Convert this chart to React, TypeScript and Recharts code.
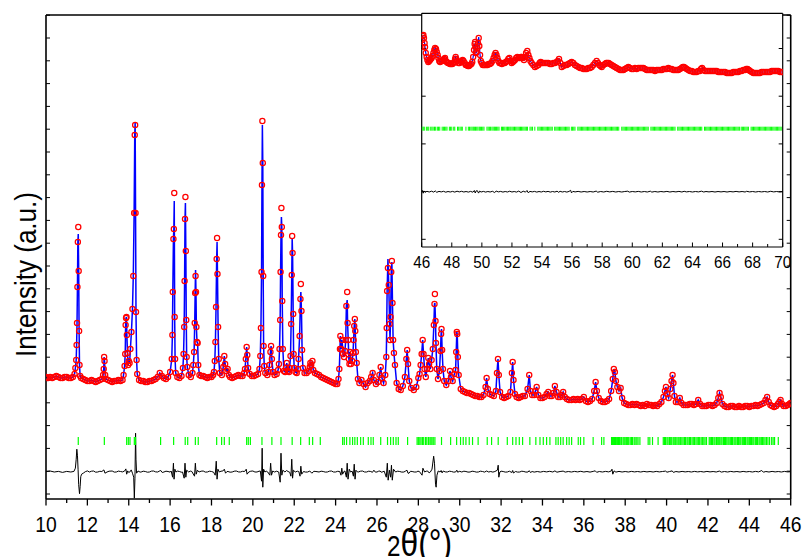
import React from 'react';
import { ComposedChart, Line, Scatter, XAxis, YAxis, CartesianGrid } from 'recharts';

const FONT = '"Liberation Sans", Arial, Helvetica, sans-serif';

// observed pattern, main window: [2theta, intensity]
const OBS_MAIN: [number, number][] = [
  [10.0, 122], [10.1, 121], [10.2, 122], [10.3, 121], [10.4, 122], [10.5, 123], [10.6, 122], [10.7, 121],
  [10.8, 121], [10.9, 122], [11.0, 122], [11.1, 121], [11.2, 121], [11.3, 122], [11.38, 125], [11.42, 131],
  [11.46, 139], [11.48, 154], [11.5, 176], [11.52, 212], [11.54, 257], [11.56, 272], [11.58, 228], [11.6, 168],
  [11.62, 134], [11.65, 123], [11.7, 121], [11.8, 120], [11.9, 119], [12.0, 118], [12.1, 118], [12.2, 119],
  [12.3, 118], [12.4, 117], [12.5, 118], [12.6, 119], [12.7, 120], [12.76, 124], [12.79, 130], [12.81, 142],
  [12.83, 138], [12.86, 124], [12.9, 120], [13.0, 119], [13.1, 118], [13.2, 117], [13.3, 118], [13.4, 118],
  [13.5, 119], [13.6, 118], [13.7, 119], [13.75, 124], [13.8, 133], [13.83, 145], [13.85, 174], [13.87, 181],
  [13.89, 182], [13.91, 164], [13.94, 146], [13.97, 134], [14.0, 138], [14.04, 136], [14.08, 150], [14.13, 167],
  [14.18, 190], [14.22, 223], [14.26, 286], [14.29, 364], [14.31, 374], [14.33, 286], [14.35, 187], [14.38, 139],
  [14.41, 125], [14.5, 119], [14.6, 118], [14.7, 118], [14.8, 117], [14.9, 117], [15.0, 118], [15.1, 118],
  [15.2, 119], [15.3, 120], [15.4, 122], [15.5, 126], [15.6, 123], [15.7, 121], [15.8, 120], [15.9, 122],
  [16.0, 127], [16.08, 140], [16.11, 164], [16.13, 207], [16.16, 260], [16.18, 270], [16.2, 306], [16.22, 182],
  [16.24, 140], [16.27, 126], [16.35, 122], [16.45, 121], [16.55, 123], [16.62, 131], [16.65, 145], [16.68, 172],
  [16.7, 218], [16.72, 280], [16.74, 302], [16.76, 248], [16.78, 179], [16.8, 142], [16.83, 132], [16.9, 124],
  [17.0, 122], [17.08, 126], [17.12, 134], [17.16, 147], [17.19, 176], [17.21, 206], [17.23, 223], [17.25, 207],
  [17.27, 172], [17.3, 157], [17.33, 156], [17.36, 134], [17.42, 124], [17.5, 123], [17.6, 123], [17.7, 122],
  [17.8, 121], [17.9, 122], [18.0, 122], [18.08, 124], [18.12, 127], [18.16, 138], [18.19, 157], [18.22, 192],
  [18.25, 240], [18.27, 261], [18.29, 225], [18.32, 172], [18.35, 140], [18.4, 126], [18.5, 124], [18.57, 132],
  [18.62, 143], [18.66, 135], [18.72, 128], [18.78, 130], [18.84, 124], [18.9, 122], [19.0, 121], [19.1, 122],
  [19.2, 123], [19.3, 124], [19.4, 123], [19.5, 123], [19.58, 126], [19.62, 130], [19.66, 140], [19.7, 152],
  [19.73, 144], [19.77, 131], [19.85, 125], [19.95, 123], [20.05, 123], [20.15, 124], [20.25, 125], [20.32, 130],
  [20.36, 143], [20.39, 171], [20.42, 227], [20.44, 314], [20.46, 378], [20.48, 336], [20.5, 223], [20.52, 153],
  [20.55, 133], [20.6, 126], [20.7, 124], [20.76, 127], [20.8, 134], [20.85, 147], [20.88, 153], [20.92, 140],
  [20.97, 127], [21.05, 124], [21.15, 125], [21.22, 129], [21.26, 135], [21.29, 150], [21.32, 179], [21.34, 227],
  [21.36, 264], [21.38, 291], [21.4, 272], [21.42, 198], [21.45, 150], [21.5, 128], [21.56, 127], [21.6, 131],
  [21.64, 136], [21.7, 128], [21.75, 127], [21.78, 131], [21.82, 143], [21.85, 175], [21.88, 224], [21.9, 263],
  [21.92, 246], [21.95, 185], [21.97, 145], [22.0, 131], [22.06, 127], [22.12, 126], [22.18, 130], [22.21, 140],
  [22.26, 163], [22.3, 200], [22.32, 215], [22.35, 188], [22.38, 149], [22.42, 131], [22.5, 126], [22.6, 126],
  [22.7, 128], [22.75, 132], [22.78, 136], [22.82, 134], [22.88, 138], [22.92, 129], [23.0, 126], [23.1, 125],
  [23.2, 124], [23.3, 122], [23.4, 121], [23.5, 120], [23.6, 119], [23.7, 118], [23.8, 117], [23.9, 116],
  [24.0, 115], [24.08, 115], [24.14, 120], [24.18, 130], [24.21, 150], [24.23, 163], [24.27, 150], [24.31, 159],
  [24.36, 145], [24.41, 142], [24.45, 148], [24.49, 159], [24.52, 193], [24.56, 207], [24.58, 176], [24.61, 159],
  [24.64, 140], [24.67, 135], [24.7, 147], [24.74, 135], [24.8, 138], [24.84, 146], [24.87, 159], [24.9, 173],
  [24.93, 180], [24.95, 168], [24.98, 147], [25.02, 136], [25.08, 120], [25.15, 116], [25.25, 119], [25.35, 115],
  [25.45, 112], [25.55, 116], [25.65, 118], [25.72, 122], [25.79, 126], [25.85, 119], [25.95, 115], [26.05, 117],
  [26.12, 124], [26.18, 132], [26.24, 121], [26.32, 116], [26.4, 124], [26.45, 142], [26.47, 171], [26.49, 208],
  [26.53, 231], [26.57, 214], [26.61, 175], [26.63, 159], [26.66, 182], [26.69, 227], [26.72, 238], [26.75, 196],
  [26.78, 159], [26.82, 146], [26.87, 134], [26.95, 116], [27.05, 110], [27.15, 109], [27.25, 113], [27.35, 122],
  [27.42, 140], [27.46, 149], [27.5, 135], [27.56, 118], [27.65, 111], [27.78, 109], [27.9, 112], [28.0, 121],
  [28.06, 125], [28.11, 134], [28.16, 145], [28.21, 159], [28.25, 145], [28.3, 130], [28.36, 122], [28.42, 130],
  [28.48, 141], [28.52, 135], [28.58, 130], [28.64, 139], [28.7, 150], [28.75, 174], [28.78, 195], [28.8, 205],
  [28.83, 178], [28.85, 156], [28.89, 130], [28.95, 120], [29.02, 128], [29.07, 148], [29.1, 165], [29.12, 170],
  [29.15, 149], [29.19, 130], [29.25, 118], [29.35, 114], [29.45, 118], [29.53, 128], [29.58, 122], [29.66, 118],
  [29.74, 125], [29.8, 129], [29.83, 147], [29.86, 167], [29.88, 165], [29.91, 142], [29.95, 124], [30.05, 110],
  [30.15, 108], [30.25, 107], [30.35, 106], [30.45, 106], [30.55, 105], [30.65, 104], [30.75, 103], [30.85, 103],
  [30.95, 102], [31.05, 102], [31.15, 104], [31.25, 112], [31.3, 121], [31.36, 110], [31.45, 105], [31.55, 104],
  [31.65, 103], [31.75, 108], [31.8, 126], [31.85, 140], [31.89, 124], [31.95, 107], [32.05, 102], [32.15, 101],
  [32.25, 102], [32.35, 103], [32.45, 107], [32.52, 126], [32.56, 137], [32.6, 119], [32.67, 105], [32.75, 102],
  [32.85, 101], [32.95, 102], [33.05, 103], [33.15, 103], [33.28, 110], [33.36, 124], [33.42, 108], [33.5, 104],
  [33.6, 104], [33.66, 108], [33.72, 112], [33.8, 104], [33.9, 101], [34.0, 101], [34.1, 102], [34.2, 105],
  [34.28, 107], [34.36, 103], [34.45, 103], [34.53, 106], [34.6, 113], [34.68, 107], [34.76, 102], [34.85, 102],
  [34.93, 104], [35.0, 107], [35.08, 102], [35.18, 100], [35.28, 99], [35.4, 99], [35.5, 100], [35.6, 99],
  [35.7, 100], [35.8, 99], [35.9, 100], [36.0, 102], [36.1, 98], [36.2, 97], [36.3, 98], [36.4, 100],
  [36.5, 108], [36.57, 117], [36.63, 108], [36.72, 101], [36.82, 98], [36.92, 97], [37.02, 97], [37.12, 98],
  [37.22, 100], [37.32, 108], [37.4, 120], [37.45, 130], [37.5, 127], [37.55, 118], [37.62, 112], [37.7, 108],
  [37.78, 111], [37.85, 101], [37.95, 96], [38.05, 95], [38.15, 94], [38.25, 94], [38.35, 95], [38.45, 94],
  [38.55, 95], [38.65, 94], [38.75, 93], [38.85, 94], [38.95, 93], [39.05, 95], [39.15, 94], [39.25, 94],
  [39.35, 93], [39.45, 94], [39.55, 93], [39.65, 95], [39.75, 97], [39.85, 102], [39.92, 108], [39.97, 112],
  [40.03, 105], [40.1, 101], [40.18, 110], [40.24, 118], [40.29, 124], [40.33, 116], [40.38, 103], [40.45, 97],
  [40.55, 97], [40.64, 101], [40.72, 96], [40.82, 94], [40.92, 94], [41.02, 94], [41.12, 95], [41.22, 95],
  [41.32, 94], [41.42, 95], [41.53, 99], [41.62, 95], [41.72, 93], [41.82, 93], [41.92, 93], [42.02, 94],
  [42.12, 94], [42.22, 93], [42.32, 94], [42.42, 96], [42.5, 101], [42.56, 106], [42.62, 102], [42.7, 95],
  [42.8, 93], [42.9, 92], [43.0, 92], [43.1, 93], [43.2, 93], [43.3, 92], [43.4, 92], [43.5, 93],
  [43.6, 92], [43.7, 92], [43.8, 93], [43.9, 93], [44.0, 92], [44.1, 93], [44.2, 93], [44.3, 94],
  [44.4, 93], [44.5, 94], [44.6, 95], [44.7, 96], [44.78, 99], [44.86, 102], [44.94, 97], [45.02, 94],
  [45.1, 93], [45.2, 92], [45.3, 93], [45.38, 95], [45.45, 97], [45.51, 99], [45.58, 95], [45.66, 93],
  [45.76, 93], [45.86, 94], [45.94, 95], [46.0, 96],
];

// calculated profile where it departs from the observed points (peak tops)
const CALC_MAIN_TOPS: [number, number][] = [
  [11.56, 265], [14.31, 377], [16.2, 298], [16.74, 296], [17.23, 229], [18.27, 257], [20.46, 374],
  [21.38, 282], [21.9, 261], [22.32, 207], [24.56, 199], [26.53, 240], [26.72, 237], [28.8, 196],
];

// difference curve (obs - calc), main window
const DIFF_MAIN: [number, number][] = [
  [10.0, 0], [10.2, 0.7], [10.4, -0.3], [10.6, 0.3], [10.8, -0.7], [11.0, 0.3], [11.2, -0.3], [11.35, 0.3],
  [11.42, 3.5], [11.46, 12.5], [11.49, 22.5], [11.52, 16.5], [11.55, 2.5], [11.58, -13], [11.62, -22], [11.65, -15],
  [11.68, -5], [11.72, -2.5], [11.8, -1.5], [11.9, 0], [12.0, 0.8], [12.1, -0.3], [12.2, 0.5], [12.3, 0.7],
  [12.4, -0.5], [12.5, -0.3], [12.6, 0.4], [12.7, 0.2], [12.8, 1.8], [12.85, -1.5], [12.95, -0.3], [13.05, 0.5],
  [13.2, 0.7], [13.3, -0.4], [13.4, -0.3], [13.5, 0.6], [13.6, 0.2], [13.7, -0.2], [13.8, 0.7], [13.86, 2.8],
  [13.9, -2.5], [13.95, 0.8], [14.0, -0.8], [14.05, -0.3], [14.12, 1.8], [14.18, -1.5], [14.24, -5.5], [14.27, -26.5],
  [14.3, -7], [14.33, 38.5], [14.35, 12.5], [14.38, -1.5], [14.45, 0.7], [14.55, -0.4], [14.6, -0.3], [14.7, 0.5],
  [14.8, 0.2], [14.9, -0.5], [15.0, -0.3], [15.1, 0.6], [15.2, 0.7], [15.3, -0.2], [15.4, -0.3], [15.5, 0.8],
  [15.55, 1.2], [15.62, -0.8], [15.7, -0.3], [15.8, 0.5], [15.9, 0.2], [16.0, -0.4], [16.05, 0.7], [16.12, -5.5],
  [16.16, 8.5], [16.19, -7.5], [16.23, 2.5], [16.28, -0.3], [16.36, 0.6], [16.45, 0.2], [16.54, -0.5], [16.6, -0.3],
  [16.68, -6.5], [16.72, 8.5], [16.76, -5.5], [16.8, 1.5], [16.9, -0.3], [16.98, 0.6], [17.05, 0.2], [17.18, -4.5],
  [17.22, 8.5], [17.26, -2.5], [17.32, 1.5], [17.4, -0.3], [17.5, 0.5], [17.6, 0.7], [17.7, -0.4], [17.8, -0.3],
  [17.9, 0.5], [18.0, 0.2], [18.1, -0.5], [18.18, -3.5], [18.23, 10.5], [18.27, -7.5], [18.31, 2.5], [18.38, -0.3],
  [18.46, 0.5], [18.55, 0.7], [18.62, 2.5], [18.68, -1.5], [18.75, 0.2], [18.8, 0.2], [18.9, -0.5], [19.0, -0.3],
  [19.1, 0.5], [19.2, 0.7], [19.3, -0.2], [19.4, -0.3], [19.5, 0.4], [19.6, 0.2], [19.68, 2.5], [19.72, -2.5],
  [19.8, -0.3], [19.9, 0.5], [20.0, 0.7], [20.1, -0.3], [20.2, -0.3], [20.3, 0.5], [20.36, 0.7], [20.42, -9.5],
  [20.45, 23.5], [20.48, -15.5], [20.52, 2.5], [20.58, -0.3], [20.65, 0.5], [20.72, -0.3], [20.82, -3.5], [20.86, 8.5],
  [20.9, -3.5], [20.96, 0.7], [21.05, -0.3], [21.15, 0.5], [21.25, -0.3], [21.32, -10.5], [21.36, 18.5], [21.4, -3.5],
  [21.45, 1.5], [21.55, -0.3], [21.63, 1.2], [21.7, 0.2], [21.78, -0.5], [21.84, -4.5], [21.88, 12.5], [21.92, -6.5],
  [21.96, 1.5], [22.05, -0.3], [22.15, 0.5], [22.22, 0.2], [22.28, -4.5], [22.32, 5.5], [22.36, -2.5], [22.45, 0.2],
  [22.55, -0.4], [22.65, -0.3], [22.75, 0.7], [22.85, -1.5], [22.95, 0.4], [23.05, 0.2], [23.2, -0.3], [23.3, 0.5],
  [23.4, 0.2], [23.5, -0.4], [23.6, -0.3], [23.7, 0.5], [23.8, 0.7], [23.9, -0.3], [24.0, -0.3], [24.1, 0.4],
  [24.2, 0.2], [24.26, -3.5], [24.3, 3.5], [24.34, -2.5], [24.4, 0.2], [24.45, 0.7], [24.52, -5.5], [24.56, 8.5],
  [24.6, -7.5], [24.66, 2.5], [24.72, -0.3], [24.8, 0.5], [24.86, -4.5], [24.9, 7.5], [24.94, -7.5], [24.98, 1.5],
  [25.05, -0.2], [25.1, -0.3], [25.2, 0.5], [25.3, 0.7], [25.4, -0.3], [25.5, -0.3], [25.6, 0.5], [25.7, 0.2],
  [25.78, -0.6], [25.85, 1.5], [25.92, -0.4], [26.0, -0.3], [26.08, 0.5], [26.15, 0.7], [26.2, -0.5], [26.25, -0.3],
  [26.35, 0.5], [26.45, -5.5], [26.5, 8.5], [26.54, -8.5], [26.6, 1.5], [26.66, -5.5], [26.7, 6.5], [26.74, -8.5],
  [26.8, 2.5], [26.9, -0.3], [27.0, 0.5], [27.1, 0.2], [27.2, -0.4], [27.3, -0.3], [27.38, 0.6], [27.45, 1.5],
  [27.5, -1.5], [27.55, -1.5], [27.62, 0.4], [27.7, 0.2], [27.8, -0.3], [27.9, -0.3], [27.98, 0.5], [28.05, 0.2],
  [28.18, -3.5], [28.22, 3.5], [28.3, -0.3], [28.38, 0.5], [28.45, 0.7], [28.52, -1.2], [28.58, -0.3], [28.66, 2.5],
  [28.74, 15.5], [28.78, 8.5], [28.83, -12.5], [28.86, -15.5], [28.9, -3.5], [28.96, 0.7], [29.05, -0.3], [29.1, 1.2],
  [29.15, -1.2], [29.2, 0.7], [29.3, -0.2], [29.4, -0.3], [29.5, 0.5], [29.6, 0.2], [29.7, -0.4], [29.8, -0.3],
  [29.86, 1.5], [29.9, -0.5], [30.0, 0.4], [30.1, -0.3], [30.2, 0.5], [30.3, 0.2], [30.4, -0.4], [30.5, -0.3],
  [30.6, 0.5], [30.7, 0.2], [30.8, -0.4], [30.9, -0.3], [31.0, 0.5], [31.1, 0.2], [31.2, -0.4], [31.3, 0.7],
  [31.4, -0.3], [31.5, 0.2], [31.6, -0.4], [31.7, 0.2], [31.82, 1.5], [31.86, 6.5], [31.89, -5.5], [31.94, -0.3],
  [32.0, 0.5], [32.1, 0.2], [32.2, -0.4], [32.3, -0.3], [32.4, 0.5], [32.52, -0.8], [32.56, 1.2], [32.6, -1.3],
  [32.7, 0.2], [32.8, -0.4], [32.9, -0.3], [33.0, 0.5], [33.1, 0.2], [33.2, -0.4], [33.3, -0.3], [33.36, 1],
  [33.42, -0.8], [33.5, 0.2], [33.6, -0.4], [33.75, 0.2], [33.9, -0.4], [34.05, 0.3], [34.2, -0.2], [34.35, 0.4],
  [34.5, -0.3], [34.6, 0.8], [34.7, -0.5], [34.85, 0.2], [35.0, 0.6], [35.1, -0.4], [35.25, 0.2], [35.4, -0.3],
  [35.55, 0.3], [35.7, -0.2], [35.85, 0.4], [36.0, -0.3], [36.15, 0.2], [36.3, -0.4], [36.45, 0.3], [36.55, 0.9],
  [36.62, -0.6], [36.75, 0.2], [36.9, -0.3], [37.05, 0.3], [37.2, -0.2], [37.32, 0.7], [37.36, 2.5], [37.4, -2.5],
  [37.46, 0.8], [37.55, -0.4], [37.7, 0.3], [37.85, -0.3], [38.0, 0.2], [38.15, -0.3], [38.3, 0.3], [38.45, -0.2],
  [38.6, 0.2], [38.75, -0.3], [38.9, 0.3], [39.05, -0.2], [39.2, 0.2], [39.35, -0.3], [39.5, 0.3], [39.65, -0.2],
  [39.8, 0.2], [39.95, 0.6], [40.02, -0.5], [40.15, 0.2], [40.27, 0.8], [40.33, -0.7], [40.45, 0.2], [40.6, -0.3],
  [40.75, 0.3], [40.9, -0.2], [41.05, 0.2], [41.2, -0.3], [41.35, 0.3], [41.5, -0.2], [41.65, 0.2], [41.8, -0.3],
  [41.95, 0.3], [42.1, -0.2], [42.25, 0.2], [42.4, -0.3], [42.55, 0.6], [42.65, -0.4], [42.8, 0.2], [42.95, -0.3],
  [43.1, 0.3], [43.25, -0.2], [43.4, 0.2], [43.55, -0.3], [43.7, 0.3], [43.85, -0.2], [44.0, 0.2], [44.15, -0.3],
  [44.3, 0.3], [44.45, -0.2], [44.6, 1.2], [44.68, -0.5], [44.8, 0.2], [44.95, -0.3], [45.1, 0.3], [45.25, -0.2],
  [45.4, 0.2], [45.55, -0.3], [45.7, 0.3], [45.85, -0.2], [46.0, 0],
];

// Bragg reflection positions (2theta), main window
const HKL_MAIN: number[] = [
  11.56, 12.82, 13.9, 13.98, 14.06, 14.27, 14.33, 15.54, 16.17, 16.73, 16.85, 17.22, 17.36, 18.25, 18.49, 18.62,
  18.86, 19.7, 19.78, 19.88, 20.44, 20.92, 21.36, 21.9, 22.31, 22.73, 22.89, 23.26, 24.34, 24.42, 24.53, 24.69,
  24.82, 24.93, 25.05, 25.21, 25.34, 25.58, 25.71, 25.82, 26.18, 26.51, 26.66, 26.79, 26.92, 27.03, 27.48, 27.94,
  28.0, 28.07, 28.13, 28.2, 28.26, 28.35, 28.41, 28.49, 28.56, 28.61, 28.66, 28.72, 28.8, 29.12, 29.56, 29.85,
  30.04, 30.17, 30.3, 30.46, 30.62, 30.89, 31.33, 31.54, 31.86, 32.3, 32.56, 32.72, 32.88, 33.04, 33.39, 33.68,
  33.88, 34.04, 34.2, 34.36, 34.65, 34.76, 34.88, 35.0, 35.17, 35.29, 35.41, 35.73, 35.84, 36.0, 36.45, 36.86,
  36.97, 37.34, 37.38, 37.44, 37.48, 37.53, 37.59, 37.62, 37.68, 37.73, 37.79, 37.83, 37.9, 37.95, 38.0, 38.07,
  38.12, 38.17, 38.24, 38.3, 38.35, 38.43, 38.48, 38.56, 38.62, 38.71, 39.11, 39.19, 39.32, 39.59, 39.84, 39.9,
  39.95, 40.02, 40.07, 40.14, 40.2, 40.25, 40.32, 40.37, 40.44, 40.5, 40.56, 40.61, 40.68, 40.74, 40.8, 40.87,
  40.92, 40.99, 41.04, 41.11, 41.16, 41.23, 41.29, 41.35, 41.42, 41.48, 41.55, 41.6, 41.67, 41.73, 41.8, 41.86,
  41.93, 42.06, 42.11, 42.17, 42.22, 42.29, 42.34, 42.41, 42.45, 42.52, 42.57, 42.63, 42.68, 42.75, 42.8, 42.85,
  42.91, 42.97, 43.02, 43.08, 43.14, 43.19, 43.26, 43.31, 43.36, 43.43, 43.48, 43.54, 43.59, 43.66, 43.71, 43.77,
  43.82, 43.89, 43.94, 44.0, 44.05, 44.11, 44.17, 44.22, 44.29, 44.34, 44.4, 44.47, 44.52, 44.58, 44.64, 44.7,
  44.76, 44.83, 44.9, 44.98, 45.08, 45.15, 45.22, 45.4,
];

// observed pattern, inset window 46-70
const OBS_INSET: [number, number][] = [
  [46.0, 200], [46.04, 207], [46.07, 211], [46.11, 212], [46.15, 209], [46.19, 204], [46.22, 200], [46.27, 194],
  [46.33, 190], [46.38, 187], [46.44, 185], [46.5, 186], [46.55, 187], [46.6, 188], [46.66, 189], [46.72, 191],
  [46.78, 194], [46.84, 197], [46.89, 199], [46.95, 198], [47.0, 195], [47.06, 192], [47.11, 189], [47.17, 186],
  [47.22, 185], [47.3, 186], [47.37, 186], [47.44, 187], [47.5, 188], [47.55, 189], [47.6, 186], [47.66, 185],
  [47.74, 184], [47.81, 184], [47.88, 183], [47.96, 183], [48.04, 183], [48.11, 184], [48.17, 185], [48.22, 188],
  [48.26, 190], [48.3, 188], [48.35, 186], [48.44, 184], [48.52, 184], [48.6, 185], [48.66, 186], [48.72, 187],
  [48.78, 186], [48.86, 184], [48.93, 182], [48.99, 182], [49.07, 181], [49.14, 181], [49.21, 182], [49.3, 183],
  [49.36, 185], [49.42, 190], [49.48, 197], [49.52, 203], [49.55, 205], [49.58, 200], [49.61, 194], [49.65, 195],
  [49.7, 199], [49.74, 204], [49.79, 209], [49.83, 201], [49.88, 192], [49.93, 186], [49.99, 184], [50.06, 182],
  [50.14, 182], [50.21, 182], [50.3, 182], [50.38, 182], [50.45, 183], [50.54, 183], [50.62, 184], [50.7, 186],
  [50.78, 189], [50.85, 192], [50.91, 194], [50.97, 192], [51.03, 189], [51.1, 186], [51.17, 184], [51.25, 184],
  [51.33, 183], [51.43, 184], [51.52, 184], [51.6, 185], [51.68, 186], [51.76, 188], [51.83, 189], [51.9, 186],
  [51.98, 184], [52.06, 185], [52.13, 186], [52.2, 187], [52.28, 189], [52.36, 190], [52.45, 189], [52.54, 189],
  [52.6, 190], [52.65, 190], [52.72, 189], [52.8, 187], [52.87, 190], [52.94, 194], [53.02, 196], [53.09, 192],
  [53.16, 189], [53.23, 186], [53.31, 184], [53.42, 182], [53.53, 180], [53.64, 181], [53.76, 182], [53.84, 184],
  [53.91, 185], [54.0, 184], [54.09, 184], [54.2, 184], [54.31, 184], [54.42, 184], [54.53, 183], [54.64, 183],
  [54.75, 184], [54.86, 184], [54.97, 185], [55.05, 186], [55.13, 188], [55.22, 184], [55.31, 180], [55.42, 181],
  [55.53, 182], [55.64, 182], [55.75, 183], [55.86, 184], [55.97, 185], [56.08, 184], [56.19, 182], [56.3, 181],
  [56.42, 180], [56.53, 179], [56.64, 179], [56.75, 178], [56.86, 178], [56.97, 178], [57.08, 179], [57.19, 179],
  [57.3, 180], [57.41, 182], [57.52, 184], [57.63, 186], [57.72, 184], [57.81, 182], [57.89, 181], [57.97, 180],
  [58.08, 182], [58.19, 183], [58.27, 184], [58.34, 184], [58.43, 184], [58.52, 183], [58.63, 182], [58.74, 181],
  [58.85, 180], [58.96, 179], [59.08, 178], [59.19, 177], [59.3, 177], [59.41, 177], [59.52, 178], [59.63, 179],
  [59.74, 180], [59.85, 179], [59.96, 178], [60.07, 178], [60.18, 179], [60.29, 178], [60.4, 179], [60.52, 179],
  [60.63, 179], [60.74, 179], [60.85, 178], [60.96, 177], [61.07, 177], [61.18, 177], [61.29, 177], [61.4, 177],
  [61.51, 176], [61.62, 177], [61.73, 177], [61.85, 177], [61.96, 177], [62.07, 178], [62.18, 178], [62.29, 178],
  [62.4, 179], [62.51, 178], [62.62, 178], [62.73, 177], [62.84, 177], [62.95, 177], [63.06, 177], [63.17, 178],
  [63.28, 179], [63.36, 180], [63.44, 180], [63.53, 179], [63.62, 178], [63.73, 177], [63.84, 176], [63.95, 176],
  [64.06, 175], [64.17, 175], [64.28, 175], [64.39, 176], [64.5, 176], [64.57, 178], [64.64, 179], [64.73, 177],
  [64.84, 176], [64.95, 176], [65.06, 176], [65.17, 176], [65.28, 176], [65.39, 176], [65.5, 176], [65.61, 176],
  [65.72, 175], [65.83, 175], [65.94, 175], [66.06, 175], [66.17, 175], [66.28, 174], [66.39, 174], [66.5, 174],
  [66.61, 174], [66.72, 175], [66.83, 175], [66.94, 175], [67.05, 175], [67.16, 176], [67.27, 176], [67.38, 177],
  [67.5, 177], [67.58, 178], [67.66, 178], [67.75, 177], [67.83, 176], [67.94, 175], [68.05, 174], [68.16, 174],
  [68.27, 174], [68.38, 174], [68.49, 174], [68.6, 175], [68.71, 175], [68.82, 175], [68.94, 175], [69.05, 175],
  [69.16, 175], [69.27, 176], [69.38, 176], [69.49, 176], [69.6, 176], [69.71, 176], [69.82, 175], [69.92, 175],
  [70.0, 175],
];

const CALC_INSET_TOPS: [number, number][] = [[46.11, 209], [49.55, 203], [49.79, 210], [53.02, 194]];

const DIFF_INSET: [number, number][] = [
  [46.0, 0], [46.05, 1.2], [46.1, -1.5], [46.15, 0.8], [46.22, -0.6], [46.35, 0.4], [46.5, -0.3], [46.65, 0.5],
  [46.8, -0.4], [46.9, 0.8], [47.0, -0.6], [47.15, 0.3], [47.3, -0.2], [47.45, 0.4], [47.6, -0.5], [47.75, 0.2],
  [47.9, -0.3], [48.05, 0.3], [48.2, -0.4], [48.35, 0.5], [48.5, -0.2], [48.65, 0.4], [48.8, -0.3], [48.95, 0.2],
  [49.1, -0.4], [49.25, 0.3], [49.4, -0.5], [49.5, 1.2], [49.56, -1.3], [49.62, 0.8], [49.7, 1.0], [49.78, -1.4],
  [49.85, 0.6], [49.95, -0.3], [50.1, 0.3], [50.25, -0.4], [50.4, 0.2], [50.55, -0.3], [50.7, 0.4], [50.85, -0.8],
  [50.95, 0.6], [51.1, -0.2], [51.25, 0.3], [51.4, -0.4], [51.55, 0.2], [51.7, -0.3], [51.85, 0.5], [52.0, -0.3],
  [52.15, 0.2], [52.3, -0.4], [52.45, 0.6], [52.6, -0.8], [52.75, 0.5], [52.9, -0.4], [53.0, 1.2], [53.08, -1.0],
  [53.2, 0.3], [53.35, -0.2], [53.5, 0.3], [53.65, -0.4], [53.8, 0.2], [53.95, -0.3], [54.1, 0.4], [54.25, -0.2],
  [54.4, 0.3], [54.55, -0.4], [54.7, 0.2], [54.85, -0.3], [55.0, 0.5], [55.1, -0.6], [55.2, 0.4], [55.35, -0.3],
  [55.5, 0.2], [55.65, -0.4], [55.8, 0.3], [55.9, 1.4], [55.96, -1.2], [56.05, 0.3], [56.2, -0.2], [56.4, 0.3],
  [56.6, -0.3], [56.8, 0.2], [57.0, -0.3], [57.2, 0.2], [57.4, -0.3], [57.6, 0.6], [57.7, -0.5], [57.9, 0.2],
  [58.1, -0.3], [58.3, 0.4], [58.5, -0.2], [58.7, 0.3], [58.9, -0.3], [59.1, 0.2], [59.3, -0.3], [59.5, 0.2],
  [59.7, 0.5], [59.8, -0.4], [60.0, 0.2], [60.2, -0.2], [60.4, 0.3], [60.6, -0.3], [60.8, 0.2], [61.0, -0.3],
  [61.2, 0.5], [61.3, -0.4], [61.5, 0.2], [61.7, -0.3], [61.9, 0.2], [62.1, -0.2], [62.3, 0.3], [62.5, -0.3],
  [62.7, 0.2], [62.9, -0.2], [63.1, 0.3], [63.3, -0.3], [63.45, 0.4], [63.6, -0.2], [63.8, 0.2], [64.0, -0.3],
  [64.2, 0.2], [64.4, -0.2], [64.6, 0.5], [64.75, -0.3], [64.9, 0.2], [65.1, -0.2], [65.3, 0.2], [65.5, -0.3],
  [65.7, 0.2], [65.9, -0.2], [66.1, 0.2], [66.3, -0.3], [66.5, 0.2], [66.7, -0.2], [66.9, 0.3], [67.1, -0.2],
  [67.3, 0.2], [67.5, -0.3], [67.6, 0.4], [67.8, -0.2], [68.0, 0.2], [68.2, -0.3], [68.4, 0.2], [68.6, -0.2],
  [68.8, 0.2], [69.0, -0.3], [69.2, 0.4], [69.4, -0.2], [69.6, 0.2], [69.8, -0.3], [70.0, 0],
];

const HKL_INSET: number[] = [
  46.02, 46.1, 46.17, 46.31, 46.4, 46.47, 46.6, 46.68, 46.76, 46.85, 46.93, 47.04, 47.12, 47.2, 47.36, 47.44,
  47.52, 47.6, 47.68, 47.84, 47.92, 48.0, 48.13, 48.2, 48.38, 48.46, 48.55, 48.63, 48.7, 48.94, 49.1, 49.18,
  49.27, 49.35, 49.43, 49.5, 49.58, 49.66, 49.74, 49.83, 49.9, 49.98, 50.06, 50.14, 50.34, 50.42, 50.5, 50.58,
  50.67, 50.75, 50.83, 50.9, 50.98, 51.06, 51.14, 51.3, 51.37, 51.45, 51.53, 51.62, 51.7, 51.78, 51.86, 51.93,
  52.01, 52.09, 52.17, 52.25, 52.33, 52.41, 52.49, 52.57, 52.64, 52.72, 52.8, 52.88, 52.96, 53.03, 53.2, 53.28,
  53.37, 53.52, 53.72, 53.8, 53.88, 53.96, 54.04, 54.12, 54.2, 54.28, 54.36, 54.44, 54.52, 54.6, 54.68, 54.84,
  54.92, 55.0, 55.08, 55.16, 55.24, 55.32, 55.4, 55.48, 55.56, 55.64, 55.72, 55.8, 55.95, 56.03, 56.11, 56.19,
  56.38, 56.46, 56.54, 56.62, 56.7, 56.78, 56.86, 56.94, 57.02, 57.1, 57.18, 57.26, 57.34, 57.42, 57.5, 57.58,
  57.66, 57.74, 57.82, 57.9, 57.98, 58.06, 58.14, 58.22, 58.3, 58.38, 58.46, 58.54, 58.62, 58.7, 58.78, 58.86,
  58.94, 59.02, 59.1, 59.3, 59.38, 59.46, 59.54, 59.62, 59.7, 59.78, 59.86, 59.94, 60.02, 60.1, 60.18, 60.26,
  60.34, 60.42, 60.5, 60.58, 60.66, 60.74, 60.82, 60.9, 60.98, 61.06, 61.24, 61.32, 61.4, 61.48, 61.56, 61.64,
  61.72, 61.8, 61.88, 61.96, 62.04, 62.12, 62.2, 62.28, 62.36, 62.44, 62.52, 62.6, 62.68, 62.76, 62.84, 63.02,
  63.1, 63.18, 63.26, 63.34, 63.42, 63.5, 63.58, 63.66, 63.74, 63.82, 63.9, 63.98, 64.06, 64.14, 64.22, 64.3,
  64.38, 64.46, 64.54, 64.62, 64.8, 64.88, 64.96, 65.04, 65.12, 65.2, 65.28, 65.36, 65.44, 65.52, 65.6, 65.68,
  65.76, 65.84, 65.92, 66.0, 66.08, 66.16, 66.24, 66.32, 66.4, 66.48, 66.56, 66.64, 66.72, 66.8, 66.88, 66.96,
  67.04, 67.12, 67.24, 67.32, 67.4, 67.48, 67.56, 67.64, 67.72, 67.9, 67.98, 68.06, 68.14, 68.22, 68.3, 68.38,
  68.46, 68.54, 68.62, 68.7, 68.78, 68.86, 68.94, 69.02, 69.1, 69.18, 69.26, 69.34, 69.42, 69.5, 69.58, 69.66,
  69.74, 69.82, 69.9,
];

const MAIN_X_TICKS = [
  10, 11, 12, 13, 14, 15, 16, 17, 18, 19, 20, 21, 22, 23, 24, 25, 26, 27, 28,
  29, 30, 31, 32, 33, 34, 35, 36, 37, 38, 39, 40, 41, 42, 43, 44, 45, 46,
];
const INSET_X_TICKS = [46, 47, 48, 49, 50, 51, 52, 53, 54, 55, 56, 57, 58, 59, 60, 61, 62, 63, 64, 65, 66, 67, 68, 69, 70];
const MAIN_Y_TICKS = [
  5, 27.8, 50.6, 73.4, 96.2, 119, 141.8, 164.6, 187.4, 210.2, 233, 255.8, 278.6, 301.4, 324.2, 347,
  369.8, 392.6, 415.4, 438.2, 461, 483.8,
];
const INSET_Y_TICKS = [7.7, 55.4, 103.1, 150.8, 198.5];

// vertical placement of the tick row and the difference curve
const HKL_LEVEL_MAIN = 58;
const DIFF_OFFSET_MAIN = 27.3;
const HKL_LEVEL_INSET = 118.3;
const DIFF_OFFSET_INSET = 55.3;

const toPts = (rows: [number, number][]) => rows.map(([x, y]) => ({ x, y }));
const withTops = (rows: [number, number][], tops: [number, number][]) =>
  rows.map(([x, y]) => {
    const t = tops.find((p) => p[0] === x);
    return { x, y: t ? t[1] : y };
  });
const shifted = (rows: [number, number][], off: number) => rows.map(([x, d]) => ({ x, y: d + off }));
const marks = (xs: number[], level: number) => xs.map((x) => ({ x, y: level }));

const obsMain = toPts(OBS_MAIN);
const calcMain = withTops(OBS_MAIN, CALC_MAIN_TOPS);
const diffMain = shifted(DIFF_MAIN, DIFF_OFFSET_MAIN);
const hklMain = marks(HKL_MAIN, HKL_LEVEL_MAIN);
const obsInset = toPts(OBS_INSET);
const calcInset = withTops(OBS_INSET, CALC_INSET_TOPS);
const diffInset = shifted(DIFF_INSET, DIFF_OFFSET_INSET);
const hklInset = marks(HKL_INSET, HKL_LEVEL_INSET);

const ObsCircle = (p: any) => (
  <circle cx={p.cx} cy={p.cy} r={2.6} fill="none" stroke="#ff0000" strokeWidth={1.25} />
);
const hklMark = (h: number, w: number) => (p: any) => (
  <line x1={p.cx} x2={p.cx} y1={p.cy - h / 2} y2={p.cy + h / 2} stroke="#00ff00" strokeWidth={w} />
);
const blank = () => '';

const MainXTick = (props: any) => {
  const { x, y, payload } = props;
  const v = payload.value;
  const major = v % 2 === 0;
  return (
    <g>
      <line x1={x} x2={x} y1={y} y2={y + (major ? 6.5 : 4)} stroke="#000" strokeWidth={1.3} />
      {major && (
        <text x={x} y={y + 33} textAnchor="middle" fontFamily={FONT} fontSize={22} fill="#000"
          textLength={21.5} lengthAdjust="spacingAndGlyphs">{v}</text>
      )}
    </g>
  );
};

const InsetXTick = (props: any) => {
  const { x, y, payload } = props;
  const v = payload.value;
  const major = v % 2 === 0;
  return (
    <g>
      <line x1={x} x2={x} y1={y} y2={y - (major ? 4.5 : 3)} stroke="#000" strokeWidth={1} />
      {major && (
        <text x={x} y={y + 20.5} textAnchor="middle" fontFamily={FONT} fontSize={16.5} fill="#000"
          textLength={17} lengthAdjust="spacingAndGlyphs">{v}</text>
      )}
    </g>
  );
};

export default function App() {
  return (
    <div style={{ position: 'absolute', left: 0, top: 0, width: 806, height: 557, background: '#fff', overflow: 'hidden' }}>
      <div style={{ position: 'absolute', left: 0, top: 0 }}>
        <ComposedChart width={806} height={557} margin={{ top: 15, right: 15.3, left: 46, bottom: 18 }}>
          <XAxis type="number" dataKey="x" domain={[10, 46]} allowDataOverflow ticks={MAIN_X_TICKS} interval={0}
            height={40} tickSize={0} tickMargin={0} tickLine={false} tick={<MainXTick />}
            axisLine={{ stroke: '#000', strokeWidth: 1.6 }} />
          <XAxis xAxisId="top" orientation="top" type="number" domain={[10, 46]} allowDataOverflow
            ticks={MAIN_X_TICKS} interval={0} mirror tickSize={3} tickFormatter={blank}
            axisLine={{ stroke: '#000', strokeWidth: 1.6 }} tickLine={{ stroke: '#000' }} />
          <YAxis type="number" dataKey="y" domain={[0, 484]} allowDataOverflow ticks={MAIN_Y_TICKS} interval={0}
            mirror tickSize={4} tickFormatter={blank}
            axisLine={{ stroke: '#000', strokeWidth: 1.6 }} tickLine={{ stroke: '#000' }} />
          <YAxis yAxisId="right" orientation="right" type="number" domain={[0, 484]} allowDataOverflow
            ticks={MAIN_Y_TICKS} interval={0} mirror tickSize={4} tickFormatter={blank}
            axisLine={{ stroke: '#000', strokeWidth: 1.6 }} tickLine={{ stroke: '#000' }} />
          <Line data={calcMain} dataKey="y" type="linear" stroke="#0000ff" strokeWidth={1.5} dot={false}
            isAnimationActive={false} />
          <Scatter data={obsMain} dataKey="y" shape={ObsCircle} isAnimationActive={false} />
          <Scatter data={hklMain} dataKey="y" shape={hklMark(8, 1.2)} isAnimationActive={false} />
          <Line data={diffMain} dataKey="y" type="linear" stroke="#000" strokeWidth={1} dot={false}
            isAnimationActive={false} />
        </ComposedChart>
      </div>

      <div style={{ position: 'absolute', left: 410, top: 0 }}>
        <ComposedChart width={385} height={280} margin={{ top: 13.3, right: 12.3, left: 11.7, bottom: 3 }}>
          <CartesianGrid horizontal={false} vertical={false} fill="#fff" fillOpacity={1} stroke="none" />
          <XAxis type="number" dataKey="x" domain={[46, 70]} allowDataOverflow ticks={INSET_X_TICKS} interval={0}
            height={30} tickSize={0} tickMargin={0} tickLine={false} tick={<InsetXTick />}
            axisLine={{ stroke: '#000', strokeWidth: 1.2 }} />
          <XAxis xAxisId="top" orientation="top" type="number" domain={[46, 70]} allowDataOverflow
            ticks={INSET_X_TICKS} interval={0} mirror tickSize={3} tickFormatter={blank}
            axisLine={{ stroke: '#000', strokeWidth: 1.2 }} tickLine={{ stroke: '#000' }} />
          <YAxis type="number" dataKey="y" domain={[0, 233.7]} allowDataOverflow ticks={INSET_Y_TICKS} interval={0}
            mirror tickSize={4} tickFormatter={blank}
            axisLine={{ stroke: '#000', strokeWidth: 1.2 }} tickLine={{ stroke: '#000' }} />
          <YAxis yAxisId="right" orientation="right" type="number" domain={[0, 233.7]} allowDataOverflow
            ticks={INSET_Y_TICKS} interval={0} mirror tickSize={4} tickFormatter={blank}
            axisLine={{ stroke: '#000', strokeWidth: 1.2 }} tickLine={{ stroke: '#000' }} />
          <Line data={calcInset} dataKey="y" type="linear" stroke="#0000ff" strokeWidth={1.2} dot={false}
            isAnimationActive={false} />
          <Scatter data={obsInset} dataKey="y" shape={ObsCircle} isAnimationActive={false} />
          <Scatter data={hklInset} dataKey="y" shape={hklMark(4, 1)} isAnimationActive={false} />
          <Line data={diffInset} dataKey="y" type="linear" stroke="#000" strokeWidth={1} dot={false}
            isAnimationActive={false} />
        </ComposedChart>
      </div>

      <svg width={806} height={557} style={{ position: 'absolute', left: 0, top: 0, pointerEvents: 'none' }}>
        <text transform="translate(36 274.5) rotate(-90)" textAnchor="middle" fontFamily={FONT} fontSize={30}
          fill="#000" textLength={165} lengthAdjust="spacingAndGlyphs">Intensity (a.u.)</text>
        <text x={387} y={556} fontFamily={FONT} fontSize={29} fill="#000" textLength={65}
          lengthAdjust="spacingAndGlyphs">
          2<tspan fontSize={38}>θ(°)</tspan>
        </text>
      </svg>
    </div>
  );
}
